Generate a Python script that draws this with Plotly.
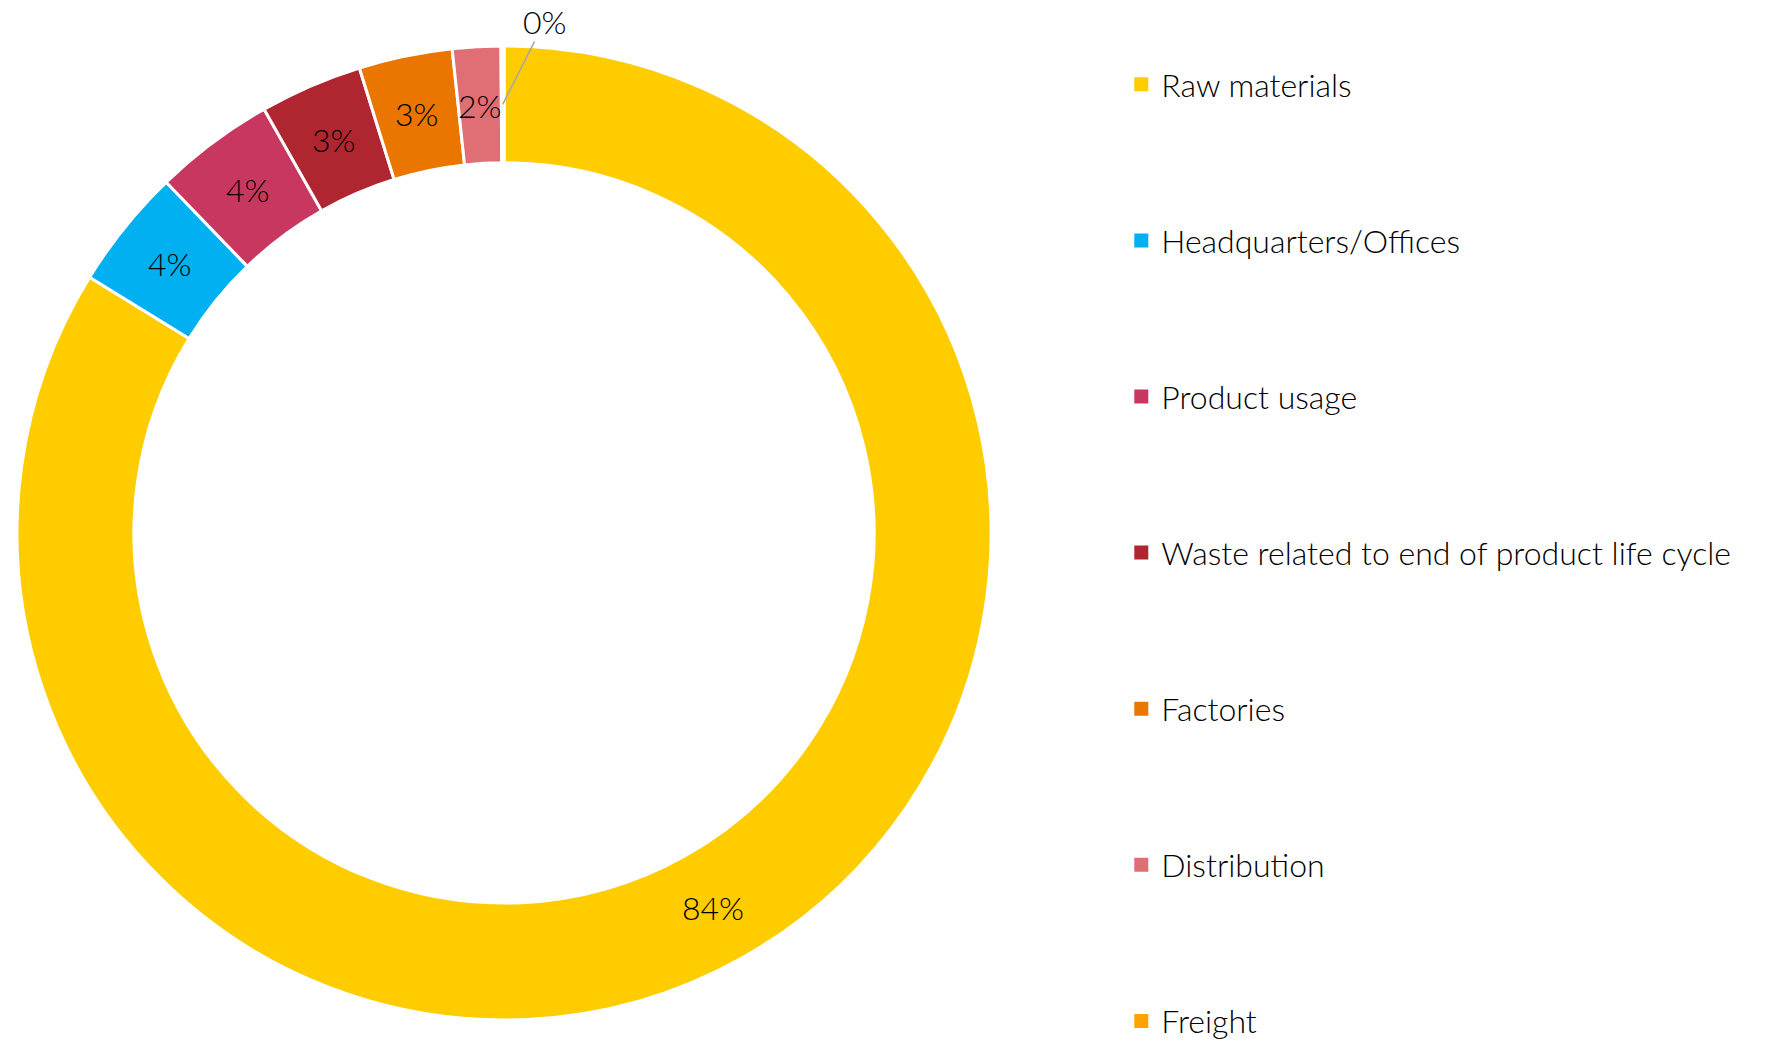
import math
import plotly.graph_objects as go

categories = ["Raw materials", "Headquarters/Offices", "Product usage",
              "Waste related to end of product life cycle", "Factories",
              "Distribution", "Freight"]
values = [83.8, 4.0, 4.0, 3.4, 3.1, 1.6, 0.1]
colors = ["#FFCC00", "#00B0F0", "#C8375F", "#AF2630", "#EA7600", "#DF6E75", "#FFA300"]

W, H = 1777, 1044
FONT = "Lato"
DOM_X = [0.0096, 0.5577]
DOM_Y = [0.023, 0.956]
HOLE = 0.76

fig = go.Figure()
fig.add_trace(go.Pie(
    labels=categories, values=values, sort=False, direction="clockwise", rotation=0,
    hole=HOLE,
    marker=dict(colors=colors, line=dict(color="white", width=3)),
    textinfo="none",
    showlegend=False,
    domain=dict(x=DOM_X, y=DOM_Y),
))

for name, c in zip(categories, colors):
    fig.add_trace(go.Scatter(
        x=[None], y=[None], mode="markers", name=name, legendgroup=name,
        marker=dict(symbol="square", size=14, color=c), showlegend=True,
    ))

# percentage labels at the middle of the ring, from the pie geometry
total = sum(values)
cx = W * (DOM_X[0] + DOM_X[1]) / 2
cy = H * (1 - (DOM_Y[0] + DOM_Y[1]) / 2)
r = min(W * (DOM_X[1] - DOM_X[0]), H * (DOM_Y[1] - DOM_Y[0])) / 2
rm = r * (1 + HOLE) / 2
lab_font = dict(family=FONT, size=32, color="black", weight=300)
cum = 0.0
for i, v in enumerate(values):
    theta = 2 * math.pi * (cum + v / 2) / total
    cum += v
    px_ = cx + rm * math.sin(theta)
    py_ = cy - rm * math.cos(theta)
    txt = f"{v / total:.0%}"
    if i == len(values) - 1:
        fig.add_annotation(
            x=px_ / W, y=1 - py_ / H, xref="paper", yref="paper", text=txt,
            showarrow=True, arrowhead=0, arrowwidth=1.5, arrowcolor="#A6A6A6",
            ax=42, ay=-83, standoff=0, borderpad=0, font=lab_font)
    else:
        fig.add_annotation(
            x=px_ / W, y=1 - py_ / H, xref="paper", yref="paper", text=txt,
            showarrow=False, xanchor="center", yanchor="middle", font=lab_font)

fig.update_layout(
    width=W, height=H,
    margin=dict(l=0, r=0, t=0, b=0, autoexpand=False),
    paper_bgcolor="white", plot_bgcolor="white",
    xaxis=dict(visible=False), yaxis=dict(visible=False),
    legend=dict(x=0.631, xanchor="left", y=0.9454, yanchor="top",
                traceorder="grouped", tracegroupgap=111.5,
                font=dict(family=FONT, size=32, color="black", weight=300),
                bgcolor="rgba(0,0,0,0)"),
)

fig.write_html("out.html", config={"displayModeBar": False},
               post_script="document.body.style.margin='0';")
